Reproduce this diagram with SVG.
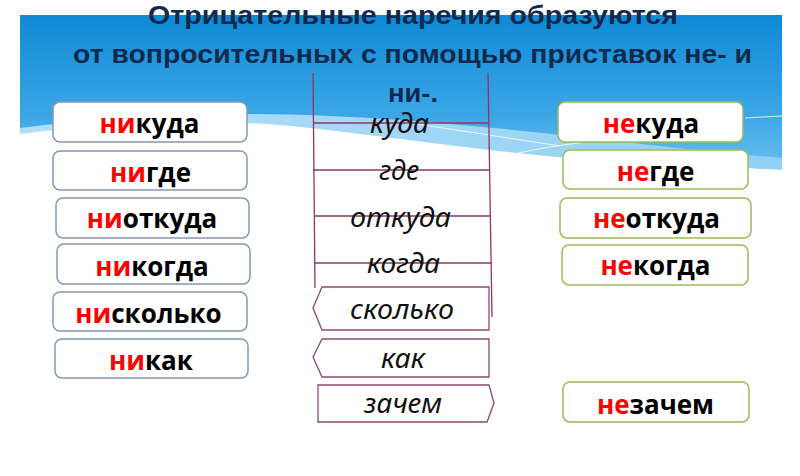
<svg xmlns="http://www.w3.org/2000/svg" width="800" height="476" viewBox="0 0 800 476">
<defs>
<linearGradient id="sky" x1="0" y1="0" x2="0" y2="1">
<stop offset="0" stop-color="#0f8ad6"/>
<stop offset="0.6" stop-color="#3aa6e6"/>
<stop offset="1" stop-color="#74c4f0"/>
</linearGradient>
<linearGradient id="band" x1="0" y1="0" x2="1" y2="0">
<stop offset="0" stop-color="#b4def7"/>
<stop offset="1" stop-color="#8fd0f4"/>
</linearGradient>
</defs>
<style>
.lb{fill:#fff;stroke:#8496ba;stroke-width:1.5}
.rb{fill:#fff;stroke:#9bbb59;stroke-width:1.5}
.bt{font-family:"Open Sans","Noto Sans",sans-serif;font-weight:700;font-size:26px;fill:#000;text-anchor:middle}
.r{fill:#ff0000}
.title{font-family:"Liberation Sans",Arial,sans-serif;font-weight:700;font-size:25px;fill:#0f2a4c}
.mt{font-family:"Noto Sans","Open Sans",sans-serif;font-style:italic;font-size:27px;fill:#111}
.ln{stroke:#8a3a62;stroke-width:1.3;fill:none}
.sh{fill:#fff;stroke:#8a4a72;stroke-width:1.3}
</style>
<rect width="800" height="476" fill="#fff"/>
<g id="background">
<rect x="20" y="15" width="762" height="165" fill="url(#sky)"/>
<path d="M20,128 C140,112 260,110 400,120 C540,130 680,150 782,158 L782,476 L20,476 Z" fill="url(#band)"/>
<path d="M20,134 C120,122 220,118 300,127 C400,138 520,156 620,162 C700,166 750,168 782,170 L782,476 L20,476 Z" fill="#fff"/>
<path d="M400,122 C460,130 520,140 560,146" stroke="#fff" stroke-width="1" fill="none" opacity="0.8"/>
<path d="M490,160 C520,152 550,146 580,143" stroke="#fff" stroke-width="1" fill="none" opacity="0.8"/>
<path d="M745,118 L782,116" stroke="#fff" stroke-width="1" fill="none" opacity="0.8"/>
</g>
<g id="title">
<text class="title" x="148" y="24" textLength="530" lengthAdjust="spacingAndGlyphs">Отрицательные наречия образуются</text>
<text class="title" x="73" y="63" textLength="679" lengthAdjust="spacingAndGlyphs">от вопросительных с помощью приставок не- и</text>
<text class="title" x="388" y="102" textLength="50" lengthAdjust="spacingAndGlyphs">ни-.</text>
</g>
<g id="connectors">
<line class="ln" x1="313" y1="73" x2="315" y2="288"/>
<line class="ln" x1="488" y1="73" x2="492" y2="317"/>
<line class="ln" x1="313" y1="123" x2="488" y2="123"/>
<line class="ln" x1="313" y1="170" x2="489" y2="170"/>
<line class="ln" x1="314" y1="216" x2="490" y2="216"/>
<line class="ln" x1="315" y1="263" x2="492" y2="263"/>
</g>
<g id="m-kuda"><text class="mt" x="370" y="133" textLength="59" lengthAdjust="spacingAndGlyphs">куда</text></g>
<g id="m-gde"><text class="mt" x="379" y="180" textLength="40" lengthAdjust="spacingAndGlyphs">где</text></g>
<g id="m-otkuda"><text class="mt" x="350" y="227" textLength="101" lengthAdjust="spacingAndGlyphs">откуда</text></g>
<g id="m-kogda"><text class="mt" x="367" y="273" textLength="73" lengthAdjust="spacingAndGlyphs">когда</text></g>
<g id="m-skolko">
<polygon class="sh" points="313,308 322,287 489,287 489,330 322,330"/>
<text class="mt" x="350" y="319" textLength="104" lengthAdjust="spacingAndGlyphs">сколько</text>
</g>
<g id="m-kak">
<polygon class="sh" points="313,357 322,339 489,339 489,377 322,377"/>
<text class="mt" x="381" y="368" textLength="44" lengthAdjust="spacingAndGlyphs">как</text>
</g>
<g id="m-zachem">
<polygon class="sh" points="318,385 489,385 494,403 487,422 318,422"/>
<text class="mt" x="364" y="413" textLength="78" lengthAdjust="spacingAndGlyphs">зачем</text>
</g>
<g id="l-nikuda"><rect class="lb" x="53" y="102" width="194" height="40" rx="7"/>
<text class="bt" x="149.5" y="133"><tspan class="r">ни</tspan>куда</text></g>
<g id="l-nigde"><rect class="lb" x="53" y="151" width="194" height="39" rx="7"/>
<text class="bt" x="150.5" y="182"><tspan class="r">ни</tspan>где</text></g>
<g id="l-niotkuda"><rect class="lb" x="56" y="198" width="193" height="40" rx="7"/>
<text class="bt" x="152" y="228"><tspan class="r">ни</tspan>откуда</text></g>
<g id="l-nikogda"><rect class="lb" x="57" y="244" width="193" height="40" rx="7"/>
<text class="bt" x="152" y="276"><tspan class="r">ни</tspan>когда</text></g>
<g id="l-niskolko"><rect class="lb" x="53" y="292" width="194" height="39" rx="7"/>
<text class="bt" x="148.5" y="323"><tspan class="r">ни</tspan>сколько</text></g>
<g id="l-nikak"><rect class="lb" x="55" y="339" width="193" height="39" rx="7"/>
<text class="bt" x="151" y="370"><tspan class="r">ни</tspan>как</text></g>
<g id="r-nekuda"><rect class="rb" x="558" y="102" width="185" height="40" rx="7"/>
<text class="bt" x="651" y="133"><tspan class="r">не</tspan>куда</text></g>
<g id="r-negde"><rect class="rb" x="563" y="150" width="185" height="39" rx="7"/>
<text class="bt" x="655.5" y="181"><tspan class="r">не</tspan>где</text></g>
<g id="r-neotkuda"><rect class="rb" x="560" y="198" width="191" height="40" rx="7"/>
<text class="bt" x="656.5" y="228"><tspan class="r">не</tspan>откуда</text></g>
<g id="r-nekogda"><rect class="rb" x="562" y="245" width="186" height="40" rx="7"/>
<text class="bt" x="655.5" y="275"><tspan class="r">не</tspan>когда</text></g>
<g id="r-nezachem"><rect class="rb" x="563" y="382" width="186" height="40" rx="7"/>
<text class="bt" x="655.5" y="414"><tspan class="r">не</tspan>зачем</text></g>
</svg>
